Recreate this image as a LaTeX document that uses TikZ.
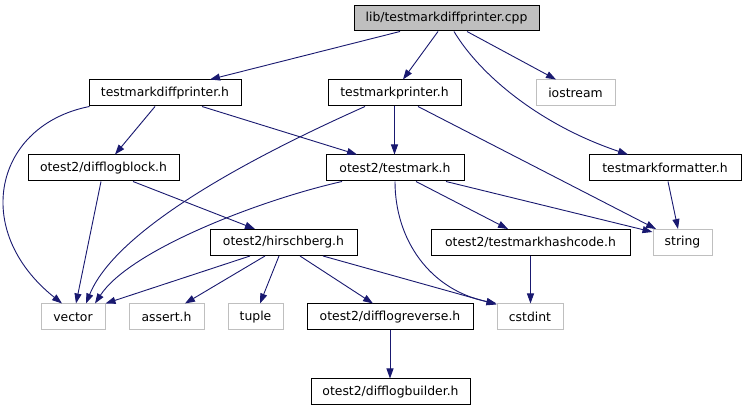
\documentclass[tikz,border=0pt]{standalone}
\usepackage{fontspec}
\setmainfont{DejaVu Sans}
\usetikzlibrary{arrows.meta}
\definecolor{edgec}{HTML}{191970}
\definecolor{greyb}{HTML}{BFBFBF}
\tikzset{
  box/.style={draw=black, line width=1pt, minimum height=26pt, inner sep=0pt, font=\fontsize{12.4}{14}\selectfont},
  sys/.style={box, draw=greyb},
  edge/.style={draw=edgec, line width=0.9pt, -{Triangle[length=10pt,width=7pt]}}
}
\begin{document}
\begin{tikzpicture}[x=1pt,y=-1pt]
\useasboundingbox[fill=white] (0,0) rectangle (747,411);
% nodes
\node[box, fill=greyb, minimum width=185, minimum height=25] (cpp) at (446.5,18.5) {lib/testmarkdiffprinter.cpp};
\node[box, minimum width=152] (tdp) at (165,93) {testmarkdiffprinter.h};
\node[box, minimum width=133] (tp) at (394.5,93) {testmarkprinter.h};
\node[sys, minimum width=79] (ios) at (575.5,93) {iostream};
\node[box, minimum width=151] (dlb) at (103.5,168) {otest2/difflogblock.h};
\node[box, minimum width=138] (tm) at (395,168) {otest2/testmark.h};
\node[box, minimum width=152] (fmt) at (665,168) {testmarkformatter.h};
\node[box, minimum width=147] (hb) at (283.5,242.5) {otest2/hirschberg.h};
\node[box, minimum width=199] (hash) at (530.5,242.5) {otest2/testmarkhashcode.h};
\node[sys, minimum width=59] (str) at (682.5,242.5) {string};
\node[sys, minimum width=64] (vec) at (73,317) {vector};
\node[sys, minimum width=75] (ast) at (166.5,317) {assert.h};
\node[sys, minimum width=55] (tup) at (255.5,317) {tuple};
\node[box, minimum width=166] (dlr) at (390,317) {otest2/difflogreverse.h};
\node[sys, minimum width=66] (cst) at (530,317) {cstdint};
\node[box, minimum width=159] (dlbd) at (390.5,392) {otest2/difflogbuilder.h};
% edges
\draw[edge] ([xshift=-46.5]cpp.south) -- ([xshift=45]tdp.north);
\draw[edge] ([xshift=-8.5]cpp.south) -- ([xshift=8.5]tp.north);
\draw[edge] ([xshift=20.5]cpp.south) -- ([xshift=-19.5]ios.north);
\draw[edge] ([xshift=7.5]cpp.south) .. controls (480,75) and (540,125) .. ([xshift=-37]fmt.north);
\draw[edge] ([xshift=1]tdp.south west) .. controls (-5,125) and (-30,230) .. ([xshift=-11]vec.north);
\draw[edge] ([xshift=-10]tdp.south) -- ([xshift=11.5]dlb.north);
\draw[edge] ([xshift=37]tdp.south) -- ([xshift=-38]tm.north);
\draw[edge] ([xshift=-29.5]tp.south) .. controls (290,140) and (120,220) .. ([xshift=13]vec.north);
\draw[edge] (tp.south) -- (tp.south |- tm.north);
\draw[edge] ([xshift=23.5]tp.south) -- ([xshift=-26.5]str.north);
\draw[edge] ([xshift=-2.5]dlb.south) -- ([xshift=3]vec.north);
\draw[edge] ([xshift=29.5]dlb.south) -- ([xshift=-28.5]hb.north);
\draw[edge] ([xshift=-53]tm.south) .. controls (260,200) and (130,250) .. ([xshift=22]vec.north);
\draw[edge] ([xshift=51]tm.south) -- ([yshift=-3]str.north west);
\draw[edge] ([xshift=21]tm.south) -- ([xshift=-22.5]hash.north);
\draw[edge] (tm.south) .. controls (395,240) and (430,290) .. (cst.north west);
\draw[edge] ([xshift=3]fmt.south) -- ([xshift=-4.5]str.north);
\draw[edge] ([xshift=-33.5]hb.south) -- (vec.north east);
\draw[edge] ([xshift=-18.5]hb.south) -- ([xshift=18.5]ast.north);
\draw[edge] ([xshift=-4.5]hb.south) -- ([xshift=4.5]tup.north);
\draw[edge] ([xshift=16.5]hb.south) -- ([xshift=-17]dlr.north);
\draw[edge] ([xshift=39.5]hb.south) -- ([yshift=-1]cst.north west);
\draw[edge] (hash.south) -- (hash.south |- cst.north);
\draw[edge] (dlr.south) -- (dlr.south |- dlbd.north);
\end{tikzpicture}
\end{document}
